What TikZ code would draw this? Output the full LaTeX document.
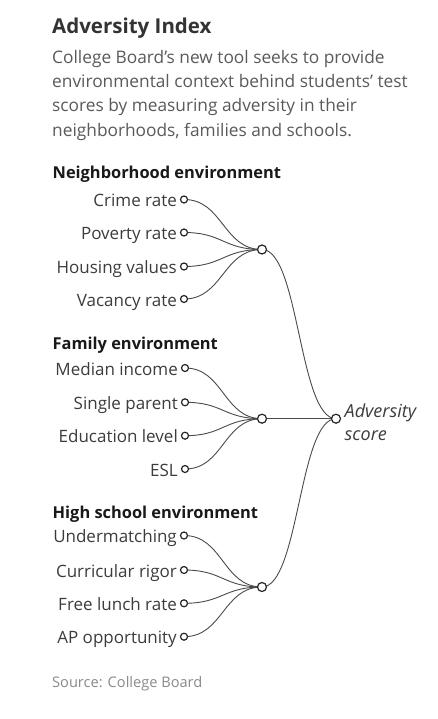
\documentclass[tikz,border=0pt]{standalone}
\usepackage{fontspec}
\setmainfont{Open Sans}
\definecolor{titlec}{HTML}{333333}
\definecolor{descc}{HTML}{5A5A5A}
\definecolor{itemc}{HTML}{3C3C3C}
\definecolor{srcc}{HTML}{8A8A8A}
\definecolor{linec}{HTML}{4A4A4A}
\pgfdeclarelayer{bg}
\pgfsetlayers{bg,main}
\tikzset{
  titletext/.style={anchor=base west,inner sep=0,text=titlec,font=\fontsize{20.5}{24}\selectfont\bfseries},
  desctext/.style={anchor=base west,inner sep=0,text=descc,font=\fontsize{17.3}{24.4}\selectfont},
  headtext/.style={anchor=base west,inner sep=0,text=black!90,font=\fontsize{16.4}{20}\selectfont\bfseries},
  itemtext/.style={anchor=base east,inner sep=0,text=itemc,font=\fontsize{17}{20}\selectfont},
  advtext/.style={anchor=base west,inner sep=0,text=itemc,font=\fontsize{18}{20}\selectfont\itshape},
  srctext/.style={anchor=base west,inner sep=0,text=srcc,font=\fontsize{14.6}{18}\selectfont},
  dot/.style={circle,draw=black!85,line width=1.2pt,fill=white,minimum size=7pt,inner sep=0},
  hub/.style={circle,draw=black!85,line width=1.2pt,fill=white,minimum size=9pt,inner sep=0},
  link/.style={draw=linec,line width=0.9pt},
}
\begin{document}
\begin{tikzpicture}[x=1pt,y=-1pt]
\useasboundingbox (0,0) rectangle (437,719);
\begin{pgfonlayer}{bg}
\fill[white] (0,0) rectangle (437,719);
\end{pgfonlayer}

\node[titletext] (title) at (52,33.3) {Adversity Index};
\node[desctext] (d1) at (52,63.3) {College Board’s new tool seeks to provide};
\node[desctext] (d2) at (52,87.5) {environmental context behind students’ test};
\node[desctext] (d3) at (52,111.8) {scores by measuring adversity in their};
\node[desctext] (d4) at (52,136.2) {neighborhoods, families and schools.};

% Neighborhood
\node[headtext] (h1) at (52.5,178.3) {Neighborhood environment};
\node[dot] (n1) at (184,199.5) {};
\node[dot] (n2) at (184,232.5) {};
\node[dot] (n3) at (184,266.5) {};
\node[dot] (n4) at (184,299) {};
\node[itemtext] (tn1) at (177,206.5) {Crime rate};
\node[itemtext] (tn2) at (177,239.5) {Poverty rate};
\node[itemtext] (tn3) at (177,273.5) {Housing values};
\node[itemtext] (tn4) at (177,306) {Vacancy rate};
\node[hub] (hn) at (262,249.5) {};

% Family
\node[headtext] (h2) at (52.5,349.3) {Family environment};
\node[dot] (f1) at (185,368) {};
\node[dot] (f2) at (185,402.3) {};
\node[dot] (f3) at (185,435.7) {};
\node[dot] (f4) at (185,469) {};
\node[itemtext] (tf1) at (178,375) {Median income};
\node[itemtext] (tf2) at (178,409.3) {Single parent};
\node[itemtext] (tf3) at (178,442.7) {Education level};
\node[itemtext] (tf4) at (178,476) {ESL};
\node[hub] (hf) at (262,418.7) {};

% High school
\node[headtext] (h3) at (52.5,518.3) {High school environment};
\node[dot] (s1) at (184,535.5) {};
\node[dot] (s2) at (184,570) {};
\node[dot] (s3) at (184,603.3) {};
\node[dot] (s4) at (184,636.7) {};
\node[itemtext] (ts1) at (177,542.5) {Undermatching};
\node[itemtext] (ts2) at (177,577) {Curricular rigor};
\node[itemtext] (ts3) at (177,610.3) {Free lunch rate};
\node[itemtext] (ts4) at (177,643.7) {AP opportunity};
\node[hub] (hs) at (262,587) {};

% Adversity score
\node[hub] (adv) at (336,418.7) {};
\node[advtext] (advt1) at (344.5,417.5) {Adversity};
\node[advtext] (advt2) at (344.5,440) {score};

\node[srctext] (src) at (52,687) {Source: College Board};

\begin{pgfonlayer}{bg}
\foreach \a in {n1,n2,n3,n4}{
  \draw[link] (\a.center) .. controls +(39,0) and +(-39,0) .. (hn.center);
}
\foreach \a in {f1,f2,f3,f4}{
  \draw[link] (\a.center) .. controls +(38.5,0) and +(-38.5,0) .. (hf.center);
}
\foreach \a in {s1,s2,s3,s4}{
  \draw[link] (\a.center) .. controls +(39,0) and +(-39,0) .. (hs.center);
}
\draw[link] (hn.center) .. controls +(37,0) and +(-37,0) .. (adv.center);
\draw[link] (hf.center) -- (adv.center);
\draw[link] (hs.center) .. controls +(37,0) and +(-37,0) .. (adv.center);
\end{pgfonlayer}
\end{tikzpicture}
\end{document}
